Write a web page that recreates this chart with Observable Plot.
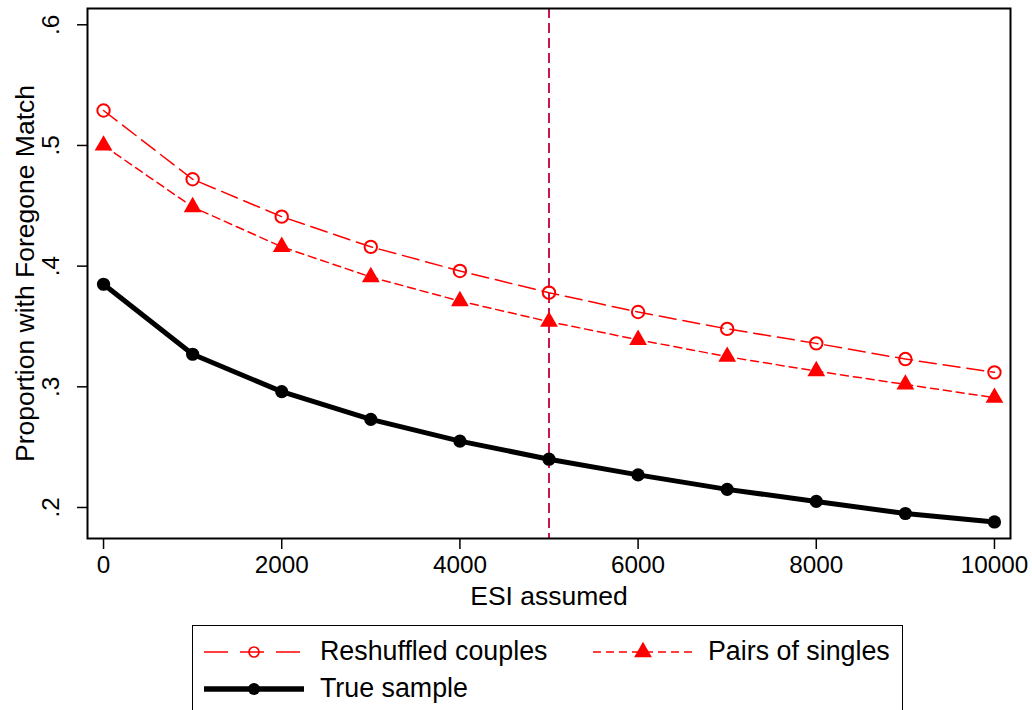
<!DOCTYPE html>
<html>
<head>
<meta charset="utf-8">
<script src="https://cdn.jsdelivr.net/npm/d3@7"></script>
<script src="https://cdn.jsdelivr.net/npm/@observablehq/plot@0.6"></script>
<style>
  body { margin: 0; background: #fff; font-family: "Liberation Sans", Arial, sans-serif; }
  #wrap { position: relative; width: 1032px; height: 710px; overflow: hidden; background: #fff; }
  #legend { position: absolute; left: 192px; top: 625px; width: 711px; height: 110px;
            border: 1.5px solid #000; box-sizing: border-box; }
  .key { position: absolute; }
  .lab { position: absolute; font-size: 26.8px; line-height: 26px; color: #000; white-space: nowrap; }
</style>
</head>
<body>
<div id="wrap">
  <div id="chart"></div>
  <div id="legend"></div>
</div>
<script>
// ESI values on the horizontal axis
const esi = [0, 1000, 2000, 3000, 4000, 5000, 6000, 7000, 8000, 9000, 10000];

// Share of pairs with a foregone match, by series
const reshuffledCouples = [0.529, 0.472, 0.441, 0.416, 0.396, 0.378, 0.362, 0.348, 0.336, 0.323, 0.312];
const pairsOfSingles    = [0.500, 0.449, 0.416, 0.391, 0.371, 0.354, 0.339, 0.325, 0.313, 0.302, 0.291];
const trueSample        = [0.385, 0.327, 0.296, 0.273, 0.255, 0.240, 0.227, 0.215, 0.205, 0.195, 0.188];

const seriesNames = ["Reshuffled couples", "Pairs of singles", "True sample"];

// Axis ticks and the reference ESI
const xTicks = [0, 2000, 4000, 6000, 8000, 10000];
const yTicks = [0.2, 0.3, 0.4, 0.5, 0.6];
const esiReference = [5000];

const rows = values => esi.map((x, i) => ({esi: x, share: values[i]}));
const rowsR = rows(reshuffledCouples);
const rowsS = rows(pairsOfSingles);
const rowsT = rows(trueSample);

const RED = "#ff0000";
const CRANBERRY = "#c8174a";
const triR = 6.6;

const chart = Plot.plot({
  width: 1032,
  height: 618,
  marginLeft: 87,
  marginRight: 22,
  marginTop: 8,
  marginBottom: 80,
  style: {fontFamily: "'Liberation Sans', Arial, sans-serif", fontSize: "24.3px", color: "#000", background: "#fff"},
  x: {domain: [-180, 10180]},
  y: {domain: [0.1743, 0.6135]},
  marks: [
    Plot.ruleX(esiReference, {stroke: CRANBERRY, strokeWidth: 2, strokeDasharray: "10,5"}),
    Plot.line(rowsR, {x: "esi", y: "share", stroke: RED, strokeWidth: 1.5, strokeDasharray: "17,7"}),
    Plot.dot(rowsR, {x: "esi", y: "share", r: 6.2, stroke: RED, strokeWidth: 2, fill: "none"}),
    Plot.line(rowsS, {x: "esi", y: "share", stroke: RED, strokeWidth: 1.5, strokeDasharray: "8,5"}),
    Plot.dot(rowsS, {x: "esi", y: "share", r: triR, symbol: "triangle", fill: RED, stroke: "none"}),
    Plot.line(rowsT, {x: "esi", y: "share", stroke: "#000", strokeWidth: 5}),
    Plot.dot(rowsT, {x: "esi", y: "share", r: 6.6, fill: "#000", stroke: "none"}),
    Plot.frame({stroke: "#000", strokeWidth: 2}),
    Plot.axisX({ticks: xTicks, tickFormat: d => String(d), tickSize: 11, tickPadding: 6,
                strokeWidth: 1.5, label: null}),
    Plot.axisY({ticks: yTicks, tickFormat: d => String(d).replace(/^0/, ""), tickSize: 10,
                tickPadding: 19, tickRotate: -90, strokeWidth: 1.5, label: null}),
    Plot.text(["ESI assumed"], {frameAnchor: "bottom", dy: 66, lineAnchor: "bottom",
                                 fontSize: 26.5, fill: "#000"}),
    Plot.text(["Proportion with Foregone Match"], {frameAnchor: "left", dx: -54, rotate: -90,
                                 lineAnchor: "bottom", textAnchor: "middle", fontSize: 26.5, fill: "#000"})
  ]
});
document.getElementById("chart").appendChild(chart);

// Legend: keys drawn with the same strokes and symbols as the chart
const legend = d3.select("#legend");
const triPath = d3.symbol(d3.symbolTriangle, Math.PI * triR * triR)();
const keys = [
  {name: seriesNames[0], left: 11, top: 16, textLeft: 127, width: 100, dash: "24,12", sw: 1.5, color: RED, marker: "circle"},
  {name: seriesNames[1], left: 400, top: 16, textLeft: 515, width: 100, dash: "8,5", sw: 1.5, color: RED, marker: "triangle"},
  {name: seriesNames[2], left: 11, top: 53, textLeft: 127, width: 100, dash: null, sw: 5.5, color: "#000", marker: "dot"}
];
for (const k of keys) {
  const svg = legend.append("svg").attr("class", "key")
    .style("left", k.left + "px").style("top", (k.top) + "px")
    .attr("width", k.width).attr("height", 20);
  const line = svg.append("line").attr("x1", 0).attr("x2", k.width).attr("y1", 10).attr("y2", 10)
    .attr("stroke", k.color).attr("stroke-width", k.sw);
  if (k.dash) line.attr("stroke-dasharray", k.dash);
  const cx = k.width / 2;
  if (k.marker === "circle") {
    svg.append("circle").attr("cx", cx).attr("cy", 10).attr("r", 5)
      .attr("fill", "none").attr("stroke", k.color).attr("stroke-width", 1.7);
  } else if (k.marker === "triangle") {
    svg.append("path").attr("d", triPath).attr("transform", `translate(${cx},10)`).attr("fill", k.color);
  } else {
    svg.append("circle").attr("cx", cx).attr("cy", 10).attr("r", 6).attr("fill", k.color);
  }
  legend.append("div").attr("class", "lab")
    .style("left", k.textLeft + "px").style("top", (k.top - 4) + "px")
    .text(k.name);
}
</script>
</body>
</html>
